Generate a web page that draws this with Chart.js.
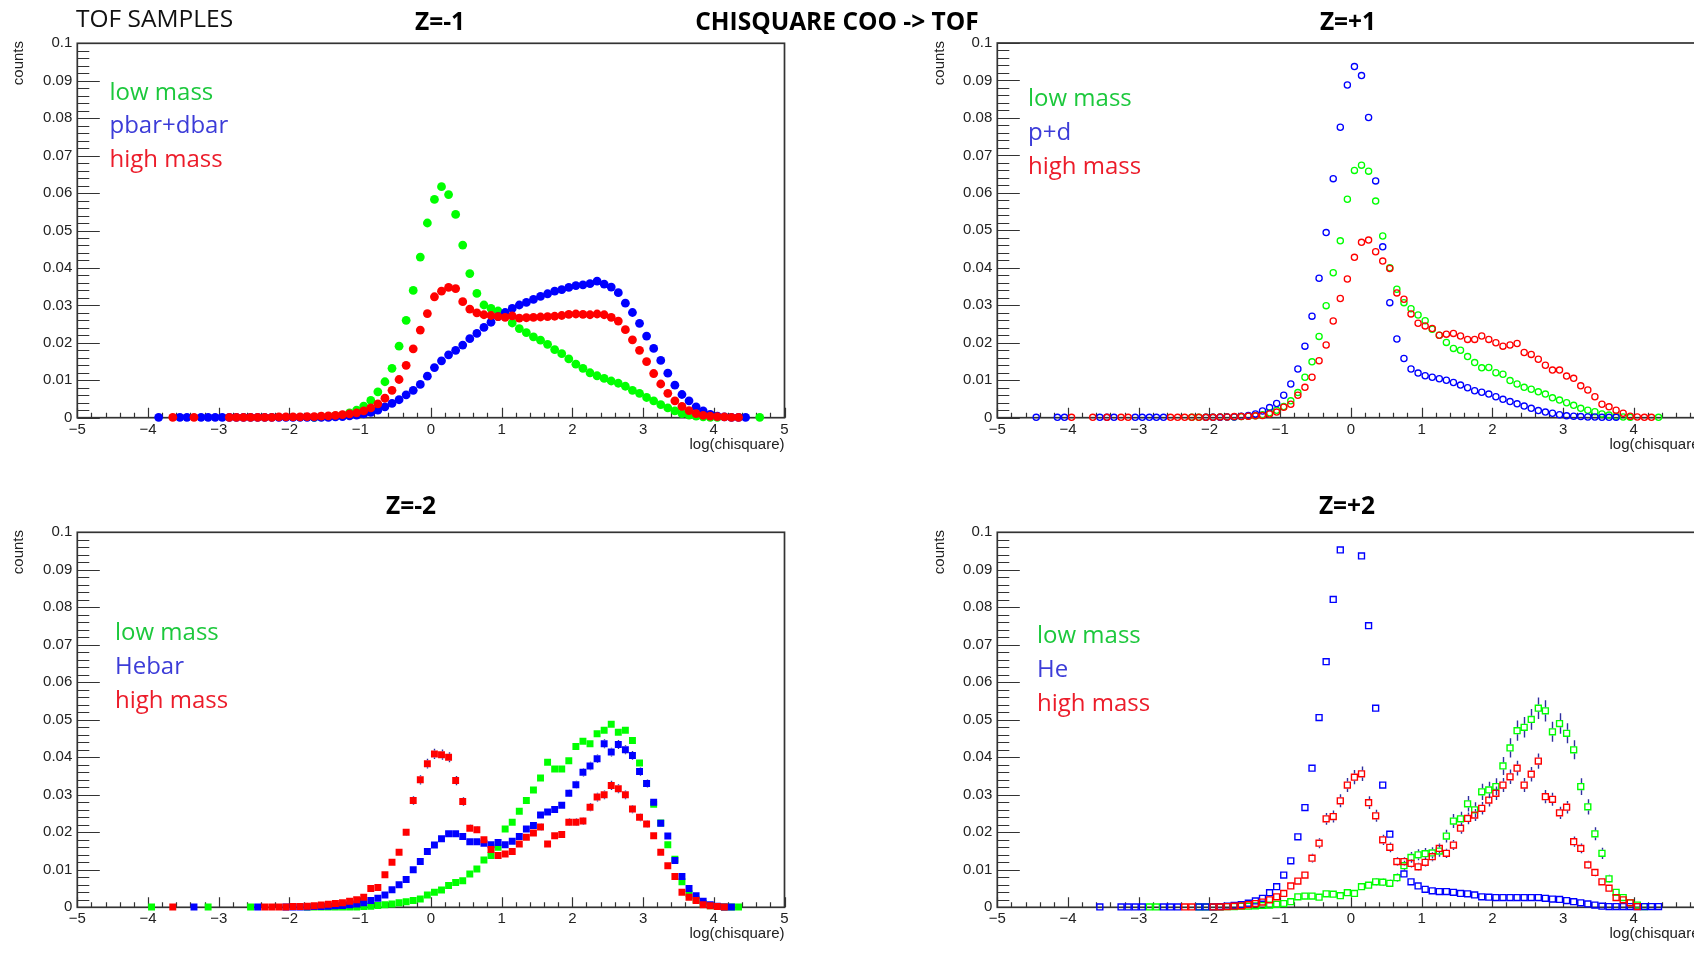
<!DOCTYPE html>
<html>
<head>
<meta charset="utf-8">
<title>TOF samples - chisquare COO -&gt; TOF</title>
<script src="https://cdn.jsdelivr.net/npm/chart.js@4.4.1/dist/chart.umd.min.js"></script>
<style>
  html, body { margin: 0; padding: 0; background: #fff; overflow: hidden; }
  #page { position: relative; width: 1694px; height: 961px; overflow: hidden; background: #fff; }
  .pad { position: absolute; }
  .pad canvas { display: block; }
  #labels { position: absolute; left: 0; top: 0; pointer-events: none; }
  .head { font-family: 'Open Sans', sans-serif; font-size: 24.5px; fill: #111; }
  .ztitle { font-family: 'Open Sans', sans-serif; font-size: 24.5px; font-weight: 700; fill: #000; }
  .axtitle { font-family: 'Liberation Sans', Arial, sans-serif; font-size: 15px; fill: #222; }
  .leg { font-family: 'Open Sans', sans-serif; font-size: 24px; }
  .leg-low { fill: #1cc83c; }
  .leg-mid { fill: #3c3cd8; }
  .leg-high { fill: #ec1c2a; }
</style>
</head>
<body>
<div id="page">
  <div class="pad" id="pad1"><canvas id="zMinus1"></canvas></div>
  <div class="pad" id="pad2"><canvas id="zPlus1"></canvas></div>
  <div class="pad" id="pad3"><canvas id="zMinus2"></canvas></div>
  <div class="pad" id="pad4"><canvas id="zPlus2"></canvas></div>

  <svg id="labels" width="1694" height="961">
    <text class="head" x="76" y="26.5">TOF SAMPLES</text>
    <text class="ztitle" x="440" y="29.5" text-anchor="middle">Z=-1</text>
    <text class="ztitle" x="837" y="29.5" text-anchor="middle">CHISQUARE COO -&gt; TOF</text>
    <text class="ztitle" x="1348" y="29.5" text-anchor="middle">Z=+1</text>
    <text class="ztitle" x="411" y="513.5" text-anchor="middle">Z=-2</text>
    <text class="ztitle" x="1347" y="513.5" text-anchor="middle">Z=+2</text>

    <text class="axtitle" transform="translate(23,41) rotate(-90)" text-anchor="end">counts</text>
    <text class="axtitle" transform="translate(943.5,41) rotate(-90)" text-anchor="end">counts</text>
    <text class="axtitle" transform="translate(23,530) rotate(-90)" text-anchor="end">counts</text>
    <text class="axtitle" transform="translate(943.5,530) rotate(-90)" text-anchor="end">counts</text>

    <text class="axtitle" x="784.5" y="448.5" text-anchor="end">log(chisquare)</text>
    <text class="axtitle" x="1704.5" y="448.5" text-anchor="end">log(chisquare)</text>
    <text class="axtitle" x="784.5" y="937.5" text-anchor="end">log(chisquare)</text>
    <text class="axtitle" x="1704.5" y="937.5" text-anchor="end">log(chisquare)</text>

    <text class="leg leg-low" x="109.5" y="99.5">low mass</text>
    <text class="leg leg-mid" x="109.5" y="133">pbar+dbar</text>
    <text class="leg leg-high" x="109.5" y="167">high mass</text>

    <text class="leg leg-low" x="1028" y="105.5">low mass</text>
    <text class="leg leg-mid" x="1028" y="139.5">p+d</text>
    <text class="leg leg-high" x="1028" y="173.5">high mass</text>

    <text class="leg leg-low" x="115" y="639.5">low mass</text>
    <text class="leg leg-mid" x="115" y="673.5">Hebar</text>
    <text class="leg leg-high" x="115" y="707.5">high mass</text>

    <text class="leg leg-low" x="1037" y="642.5">low mass</text>
    <text class="leg leg-mid" x="1037" y="676.5">He</text>
    <text class="leg leg-high" x="1037" y="710.5">high mass</text>
  </svg>
</div>

<script>
// log(chisquare) histograms, 0.1 wide bins, normalised to unit area.
// Each series lists its bin contents from the centre of its first bin; null = empty bin.
const BIN_WIDTH = 0.1;

// ---- Z = -1 ----
const zm1LowStart = -1.65;
const zm1Low = [
  0.0001, 0.0002, 0.0003, 0.0005, 0.0007, 0.0013, 0.0020, 0.0031, 0.0046, 0.0069,
  0.0096, 0.0132, 0.0191, 0.0260, 0.0340, 0.0429, 0.0520, 0.0583, 0.0617, 0.0596,
  0.0543, 0.0461, 0.0385, 0.0332, 0.0301, 0.0292, 0.0285, 0.0273, 0.0253, 0.0238,
  0.0227, 0.0216, 0.0207, 0.0196, 0.0182, 0.0171, 0.0157, 0.0143, 0.0132, 0.0120,
  0.0112, 0.0105, 0.0098, 0.0092, 0.0084, 0.0073, 0.0065, 0.0054, 0.0045, 0.0035,
  0.0026, 0.0018, 0.0011, 0.0007, 0.0004, 0.0002, 0.0001, 0.0001, null, null,
  null, null, null, 0.0001
];
const zm1PbarStart = -3.85;
const zm1Pbar = [
  0.0001, null, null, 0.0001, 0.0001, null, 0.0001, 0.0001, 0.0001, 0.0001,
  0.0001, 0.0001, 0.0001, 0.0001, 0.0001, 0.0001, 0.0001, 0.0001, 0.0001, 0.0001,
  0.0001, 0.0001, 0.0001, 0.0001, 0.0001, 0.0002, 0.0003, 0.0005, 0.0007, 0.0010,
  0.0014, 0.0020, 0.0029, 0.0038, 0.0048, 0.0061, 0.0073, 0.0089, 0.0111, 0.0134,
  0.0152, 0.0168, 0.0180, 0.0194, 0.0211, 0.0225, 0.0241, 0.0255, 0.0270, 0.0281,
  0.0292, 0.0301, 0.0308, 0.0316, 0.0324, 0.0331, 0.0338, 0.0342, 0.0348, 0.0353,
  0.0355, 0.0358, 0.0365, 0.0357, 0.0349, 0.0334, 0.0306, 0.0281, 0.0252, 0.0218,
  0.0185, 0.0153, 0.0119, 0.0087, 0.0062, 0.0045, 0.0029, 0.0018, 0.0009, 0.0004,
  0.0002, 0.0001, 0.0001, 0.0001
];
const zm1HighStart = -3.65;
const zm1High = [
  0.0001, null, null, 0.0001, null, null, null, null, 0.0001, 0.0001,
  0.0001, 0.0001, 0.0001, 0.0001, 0.0001, 0.0002, 0.0002, 0.0002, 0.0002, 0.0003,
  0.0003, 0.0004, 0.0005, 0.0006, 0.0008, 0.0010, 0.0013, 0.0018, 0.0026, 0.0037,
  0.0052, 0.0073, 0.0102, 0.0140, 0.0184, 0.0234, 0.0278, 0.0323, 0.0338, 0.0348,
  0.0345, 0.0310, 0.0290, 0.0280, 0.0275, 0.0273, 0.0270, 0.0268, 0.0272, 0.0266,
  0.0267, 0.0268, 0.0269, 0.0270, 0.0271, 0.0273, 0.0276, 0.0277, 0.0276, 0.0275,
  0.0277, 0.0275, 0.0268, 0.0258, 0.0235, 0.0208, 0.0180, 0.0150, 0.0118, 0.0090,
  0.0065, 0.0045, 0.0030, 0.0019, 0.0011, 0.0006, 0.0004, 0.0003, 0.0002, 0.0001,
  0.0001
];

// ---- Z = +1 ----
const zp1LowStart = -2.25;
const zp1Low = [
  0.0001, 0.0001, 0.0001, 0.0001, 0.0002, 0.0002, 0.0002, 0.0003, 0.0004, 0.0005,
  0.0008, 0.0013, 0.0020, 0.0030, 0.0045, 0.0067, 0.0108, 0.0149, 0.0217, 0.0299,
  0.0387, 0.0472, 0.0583, 0.0660, 0.0674, 0.0658, 0.0578, 0.0485, 0.0400, 0.0343,
  0.0307, 0.0291, 0.0274, 0.0259, 0.0236, 0.0220, 0.0201, 0.0185, 0.0180, 0.0163,
  0.0147, 0.0133, 0.0134, 0.0120, 0.0116, 0.0099, 0.0090, 0.0081, 0.0076, 0.0069,
  0.0063, 0.0053, 0.0047, 0.0040, 0.0033, 0.0025, 0.0020, 0.0016, 0.0010, 0.0007,
  0.0004, 0.0002, 0.0001, null, null, null, 0.0001
];
const zp1PdStart = -4.45;
const zp1Pd = [
  0.0001, null, null, 0.0001, 0.0001, null, null, null, null, 0.0001,
  0.0001, 0.0001, null, null, 0.0001, 0.0001, 0.0001, 0.0001, 0.0001, null,
  null, null, null, null, 0.0001, 0.0001, 0.0001, 0.0002, 0.0002, 0.0004,
  0.0006, 0.0010, 0.0018, 0.0027, 0.0038, 0.0060, 0.0090, 0.0130, 0.0191, 0.0271,
  0.0372, 0.0494, 0.0638, 0.0775, 0.0888, 0.0937, 0.0913, 0.0801, 0.0632, 0.0456,
  0.0307, 0.0210, 0.0158, 0.0130, 0.0119, 0.0112, 0.0108, 0.0104, 0.0100, 0.0094,
  0.0087, 0.0080, 0.0072, 0.0068, 0.0063, 0.0056, 0.0049, 0.0043, 0.0037, 0.0031,
  0.0025, 0.0019, 0.0015, 0.0012, 0.0008, 0.0005, 0.0004, 0.0003, 0.0002, 0.0002,
  0.0001, 0.0001, 0.0001
];
const zp1HighStart = -3.95;
const zp1High = [
  0.0001, null, null, 0.0001, null, 0.0001, null, 0.0001, 0.0001, null,
  null, null, null, null, 0.0001, 0.0001, 0.0001, 0.0001, 0.0001, 0.0001,
  0.0001, 0.0002, 0.0002, 0.0003, 0.0003, 0.0004, 0.0005, 0.0006, 0.0010, 0.0015,
  0.0028, 0.0036, 0.0060, 0.0081, 0.0108, 0.0152, 0.0194, 0.0258, 0.0318, 0.0370,
  0.0428, 0.0468, 0.0474, 0.0443, 0.0418, 0.0398, 0.0333, 0.0316, 0.0277, 0.0252,
  0.0245, 0.0238, 0.0220, 0.0223, 0.0225, 0.0218, 0.0209, 0.0209, 0.0218, 0.0209,
  0.0200, 0.0191, 0.0194, 0.0198, 0.0174, 0.0169, 0.0156, 0.0140, 0.0127, 0.0127,
  0.0111, 0.0105, 0.0085, 0.0074, 0.0056, 0.0036, 0.0029, 0.0020, 0.0012, 0.0004,
  0.0002, 0.0001, 0.0001
];

// ---- Z = -2 ----
const zm2LowStart = -3.95;
const zm2Low = [
  0.0001, null, null, null, null, null, null, null, 0.0001, null,
  null, null, null, null, 0.0001, null, null, null, null, null,
  null, null, 0.0001, 0.0001, 0.0001, 0.0001, 0.0001, 0.0001, 0.0001, 0.0001,
  0.0002, 0.0003, 0.0005, 0.0007, 0.0009, 0.0012, 0.0015, 0.0018, 0.0022, 0.0033,
  0.0040, 0.0046, 0.0058, 0.0066, 0.0071, 0.0089, 0.0102, 0.0126, 0.0138, 0.0160,
  0.0209, 0.0227, 0.0256, 0.0285, 0.0313, 0.0345, 0.0387, 0.0369, 0.0369, 0.0391,
  0.0429, 0.0443, 0.0436, 0.0463, 0.0472, 0.0488, 0.0467, 0.0472, 0.0445, 0.0385,
  0.0330, 0.0275, 0.0225, 0.0167, 0.0128, 0.0068, 0.0036, 0.0020, 0.0010, 0.0004,
  0.0002, 0.0001, 0.0001, 0.0001
];
const zm2HebarStart = -3.35;
const zm2Hebar = [
  0.0001, null, null, null, null, null, null, null, null, 0.0001,
  null, null, null, 0.0001, 0.0001, 0.0001, 0.0001, 0.0002, 0.0002, 0.0003,
  0.0004, 0.0005, 0.0007, 0.0009, 0.0012, 0.0018, 0.0024, 0.0033, 0.0047, 0.0060,
  0.0074, 0.0100, 0.0122, 0.0149, 0.0166, 0.0183, 0.0196, 0.0196, 0.0189, 0.0175,
  0.0175, 0.0171, 0.0167, 0.0173, 0.0167, 0.0176, 0.0189, 0.0209, 0.0218, 0.0246,
  0.0254, 0.0261, 0.0272, 0.0304, 0.0327, 0.0360, 0.0377, 0.0396, 0.0436, 0.0414,
  0.0434, 0.0420, 0.0405, 0.0362, 0.0330, 0.0280, 0.0224, 0.0190, 0.0125, 0.0082,
  0.0050, 0.0031, 0.0016, 0.0007, 0.0003, 0.0001, 0.0001
];
const zm2HighStart = -3.65;
const zm2High = [
  0.0001, null, null, null, null, null, null, null, null, null,
  null, null, null, 0.0001, 0.0001, 0.0001, 0.0001, 0.0002, 0.0002, 0.0003,
  0.0004, 0.0006, 0.0008, 0.0010, 0.0012, 0.0016, 0.0020, 0.0027, 0.0050, 0.0053,
  0.0087, 0.0120, 0.0147, 0.0200, 0.0285, 0.0340, 0.0383, 0.0409, 0.0407, 0.0400,
  0.0338, 0.0282, 0.0211, 0.0207, 0.0180, 0.0154, 0.0138, 0.0142, 0.0149, 0.0169,
  0.0187, 0.0198, 0.0214, 0.0169, 0.0191, 0.0194, 0.0227, 0.0227, 0.0230, 0.0267,
  0.0294, 0.0300, 0.0325, 0.0316, 0.0300, 0.0262, 0.0240, 0.0222, 0.0191, 0.0147,
  0.0111, 0.0082, 0.0040, 0.0027, 0.0018, 0.0007, 0.0004, 0.0002, 0.0001
];

// ---- Z = +2 ----
const zp2LowStart = -2.85;
const zp2Low = [
  0.0001, 0.0001, null, null, null, null, null, 0.0001, 0.0001, 0.0001,
  0.0001, 0.0002, 0.0002, 0.0003, 0.0003, 0.0004, 0.0005, 0.0006, 0.0008, 0.0010,
  0.0015, 0.0028, 0.0030, 0.0030, 0.0027, 0.0036, 0.0035, 0.0031, 0.0039, 0.0037,
  0.0055, 0.0059, 0.0068, 0.0067, 0.0064, 0.0079, 0.0111, 0.0133, 0.0140, 0.0143,
  0.0145, 0.0150, 0.0190, 0.0230, 0.0236, 0.0276, 0.0260, 0.0308, 0.0313, 0.0322,
  0.0377, 0.0425, 0.0471, 0.0480, 0.0501, 0.0531, 0.0524, 0.0468, 0.0490, 0.0464,
  0.0420, 0.0322, 0.0268, 0.0196, 0.0144, 0.0076, 0.0040, 0.0026, 0.0012, 0.0006,
  0.0002
];
// the two central He bins lie above 0.1, outside the frame
const zp2HeStart = -3.55;
const zp2He = [
  0.0001, null, null, 0.0001, 0.0001, 0.0001, 0.0001, null, null, 0.0001,
  0.0001, 0.0001, null, null, 0.0001, 0.0001, 0.0001, 0.0002, 0.0003, 0.0005,
  0.0007, 0.0011, 0.0017, 0.0024, 0.0039, 0.0055, 0.0086, 0.0124, 0.0188, 0.0266,
  0.0371, 0.0506, 0.0655, 0.0821, 0.0953, null, null, 0.0937, 0.0751, 0.0531,
  0.0326, 0.0195, null, 0.0089, 0.0068, 0.0057, 0.0048, 0.0044, 0.0042, 0.0042,
  0.0040, 0.0037, 0.0036, 0.0033, 0.0028, 0.0027, 0.0026, 0.0026, 0.0026, 0.0026,
  0.0026, 0.0026, 0.0026, 0.0024, 0.0022, 0.0021, 0.0018, 0.0015, 0.0012, 0.0009,
  0.0006, 0.0003, 0.0002, 0.0002, 0.0002, 0.0002, 0.0002, 0.0002, 0.0002, 0.0002
];
const zp2HighStart = -2.35;
const zp2High = [
  0.0001, 0.0001, null, null, 0.0001, 0.0001, 0.0002, 0.0003, 0.0004, 0.0007,
  0.0010, 0.0014, 0.0020, 0.0028, 0.0037, 0.0057, 0.0070, 0.0086, 0.0131, 0.0171,
  0.0236, 0.0242, 0.0284, 0.0326, 0.0347, 0.0356, 0.0279, 0.0244, 0.0180, 0.0160,
  0.0122, 0.0122, 0.0117, 0.0108, 0.0120, 0.0135, 0.0157, 0.0144, 0.0166, 0.0211,
  0.0237, 0.0246, 0.0264, 0.0286, 0.0304, 0.0326, 0.0348, 0.0371, 0.0326, 0.0355,
  0.0390, 0.0295, 0.0288, 0.0252, 0.0267, 0.0175, 0.0157, 0.0113, 0.0093, 0.0068,
  0.0051, 0.0026, 0.0020, 0.0012, 0.0002
];

// number of entries behind each Z=2 histogram (sets the statistical error bars)
const zm2Entries = { low: 60000, hebar: 30000, high: 22000 };
const zp2Entries = { low: 6500, he: 120000, high: 9500 };

const X_TICKS_MIN = -5, X_TICKS_MAX = 5;
const Y_MIN = 0, Y_MAX = 0.1;

const GREEN = '#00ff00', BLUE = '#0000ff', RED = '#ff0000';
const AXIS_COLOR = '#333';
const ERR_COLOR = '#2f2fa0';

function toPoints(start, values) {
  return values.map((v, i) => ({ x: +(start + i * BIN_WIDTH).toFixed(2), y: v }));
}

// ROOT-like frame: inward ticks on x and y, box around the pad
const rootAxes = {
  id: 'rootAxes',
  beforeDatasetsDraw(chart) {
    const { ctx, chartArea: a } = chart;
    const xs = chart.scales.x, ys = chart.scales.y;
    ctx.save();
    ctx.strokeStyle = AXIS_COLOR;
    ctx.lineWidth = 1.2;
    ctx.beginPath();
    for (let k = 0; k <= 50; k++) {
      const py = Math.round(ys.getPixelForValue(k * 0.002)) + 0.5;
      ctx.moveTo(a.left, py);
      ctx.lineTo(a.left + (k % 5 === 0 ? 22.5 : 12), py);
    }
    for (let k = 0; k <= 50; k++) {
      const px = Math.round(xs.getPixelForValue(X_TICKS_MIN + k * 0.2)) + 0.5;
      ctx.moveTo(px, a.bottom);
      ctx.lineTo(px, a.bottom - (k % 5 === 0 ? 10 : 5));
    }
    ctx.stroke();
    ctx.lineWidth = 1.7;
    ctx.strokeRect(a.left, a.top, a.right - a.left, a.bottom - a.top);
    ctx.restore();
  },
  afterDatasetsDraw(chart) {
    const { ctx } = chart;
    const ys = chart.scales.y;
    ctx.save();
    ctx.strokeStyle = ERR_COLOR;
    ctx.lineWidth = 1.4;
    ctx.beginPath();
    chart.data.datasets.forEach((ds, i) => {
      if (!ds.entries) return;
      const half = ds.pointRadius * Math.SQRT1_2 + ds.pointBorderWidth / 2;
      chart.getDatasetMeta(i).data.forEach((el, j) => {
        const v = ds.data[j].y;
        if (v == null) return;
        const err = Math.sqrt(v / ds.entries);
        const top = ys.getPixelForValue(Math.min(v + err, Y_MAX));
        const bot = ys.getPixelForValue(Math.max(v - err, Y_MIN));
        const x = Math.round(el.x) + 0.5;
        if (el.y - top > half) { ctx.moveTo(x, top); ctx.lineTo(x, el.y - half); }
        if (bot - el.y > half) { ctx.moveTo(x, el.y + half); ctx.lineTo(x, bot); }
      });
    });
    ctx.stroke();
    ctx.restore();
  }
};

function series(points, color, marker, order, entries) {
  const ds = {
    data: points,
    showLine: false,
    order: order,
    clip: 12,
    pointStyle: marker.style,
    pointRadius: marker.radius,
    pointHoverRadius: marker.radius,
    pointBorderWidth: marker.open ? marker.line : 0,
    pointBorderColor: color,
    pointBackgroundColor: marker.open ? 'rgba(0,0,0,0)' : color
  };
  if (entries) ds.entries = entries;
  return ds;
}

function makePad(canvasId, box, area, datasets) {
  const canvas = document.getElementById(canvasId);
  const pad = canvas.parentNode;
  pad.style.left = box.left + 'px';
  pad.style.top = box.top + 'px';
  canvas.width = box.w;
  canvas.height = box.h;
  canvas.style.width = box.w + 'px';
  canvas.style.height = box.h + 'px';

  const yWidth = area.left - box.left;
  const xHeight = box.top + box.h - area.bottom;
  const tickFont = { family: "'Liberation Sans', Arial, sans-serif", size: 15 };

  return new Chart(canvas, {
    type: 'scatter',
    data: { datasets: datasets },
    options: {
      responsive: false,
      animation: false,
      events: [],
      layout: {
        padding: { left: 0, bottom: 0, top: area.top - box.top, right: box.left + box.w - area.right }
      },
      plugins: { legend: { display: false }, tooltip: { enabled: false }, title: { display: false } },
      scales: {
        x: {
          type: 'linear',
          min: X_TICKS_MIN,
          max: X_TICKS_MAX,
          afterFit: s => { s.height = xHeight; },
          grid: { display: false, drawTicks: false },
          border: { display: false },
          ticks: {
            stepSize: 1,
            autoSkip: false,
            maxRotation: 0,
            padding: 3,
            color: '#222',
            font: tickFont,
            callback: v => (v < 0 ? '\u2212' + (-v) : String(v))
          }
        },
        y: {
          type: 'linear',
          min: Y_MIN,
          max: Y_MAX,
          afterFit: s => { s.width = yWidth; },
          grid: { display: false, drawTicks: false },
          border: { display: false },
          ticks: {
            stepSize: 0.01,
            autoSkip: false,
            padding: 5,
            color: '#222',
            font: tickFont,
            callback: v => String(+v.toFixed(2))
          }
        }
      }
    },
    plugins: [rootAxes]
  });
}

const filledCircle = { style: 'circle', radius: 4.4, open: false };
const openCircle = { style: 'circle', radius: 3.1, open: true, line: 1.3 };
const filledSquare = { style: 'rect', radius: 4.9, open: false };
const openSquare = { style: 'rect', radius: 4.2, open: true, line: 1.4 };

makePad('zMinus1',
  { left: 0, top: 0, w: 847, h: 470 },
  { left: 77.3, top: 43.3, right: 784.5, bottom: 417.7 },
  [
    series(toPoints(zm1LowStart, zm1Low), GREEN, filledCircle, 2),
    series(toPoints(zm1PbarStart, zm1Pbar), BLUE, filledCircle, 1),
    series(toPoints(zm1HighStart, zm1High), RED, filledCircle, 0)
  ]);

makePad('zPlus1',
  { left: 847, top: 0, w: 900, h: 470 },
  { left: 997.3, top: 43, right: 1704.5, bottom: 417.7 },
  [
    series(toPoints(zp1LowStart, zp1Low), GREEN, openCircle, 2),
    series(toPoints(zp1PdStart, zp1Pd), BLUE, openCircle, 1),
    series(toPoints(zp1HighStart, zp1High), RED, openCircle, 0)
  ]);

makePad('zMinus2',
  { left: 0, top: 480, w: 847, h: 481 },
  { left: 77.3, top: 532.3, right: 784.5, bottom: 907.3 },
  [
    series(toPoints(zm2LowStart, zm2Low), GREEN, filledSquare, 2, zm2Entries.low),
    series(toPoints(zm2HebarStart, zm2Hebar), BLUE, filledSquare, 1, zm2Entries.hebar),
    series(toPoints(zm2HighStart, zm2High), RED, filledSquare, 0, zm2Entries.high)
  ]);

makePad('zPlus2',
  { left: 847, top: 480, w: 900, h: 481 },
  { left: 997.3, top: 532.3, right: 1704.5, bottom: 907.3 },
  [
    series(toPoints(zp2LowStart, zp2Low), GREEN, openSquare, 2, zp2Entries.low),
    series(toPoints(zp2HeStart, zp2He), BLUE, openSquare, 1, zp2Entries.he),
    series(toPoints(zp2HighStart, zp2High), RED, openSquare, 0, zp2Entries.high)
  ]);
</script>
</body>
</html>
